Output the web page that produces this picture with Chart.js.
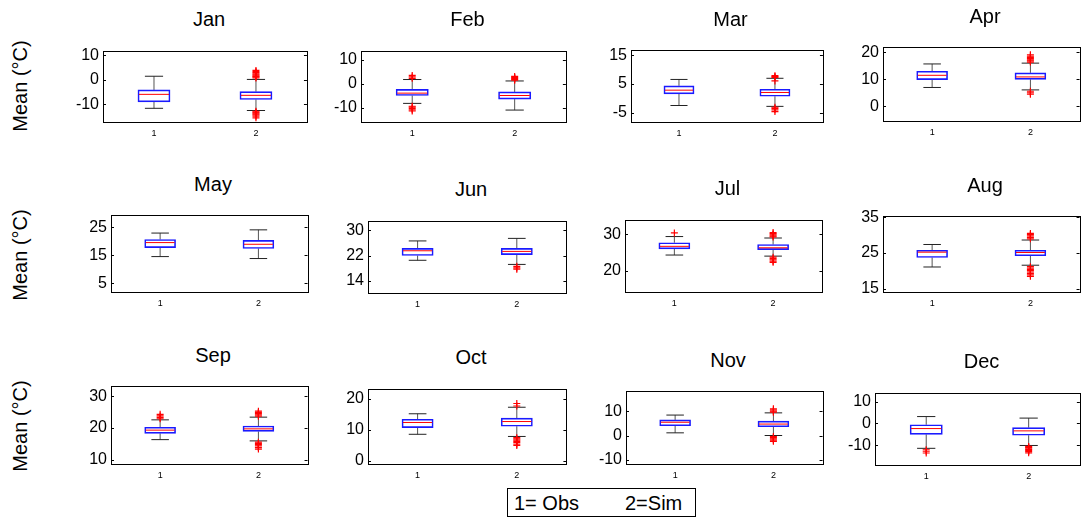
<!DOCTYPE html>
<html><head><meta charset="utf-8">
<script src="https://cdn.jsdelivr.net/npm/chart.js@4.4.1/dist/chart.umd.min.js"></script>
<style>
html,body{margin:0;padding:0;background:#fff;overflow:hidden;width:1081px;height:520px;}
#page{position:relative;width:1081px;height:520px;overflow:hidden;font-family:"Liberation Sans",Arial,sans-serif;color:#000;}
#page canvas{position:absolute;}
.title{position:absolute;width:200px;font-size:20px;line-height:20px;text-align:center;white-space:nowrap;font-weight:normal;}
.ylab{position:absolute;font-size:20px;line-height:20px;white-space:nowrap;transform:translate(-50%,-50%) rotate(-90deg);}
.legend{position:absolute;left:507px;top:488px;width:189px;height:29px;border:1px solid #000;box-sizing:border-box;background:#fff;}
.legend span{position:absolute;top:4px;font-size:20px;line-height:20px;white-space:nowrap;}
</style></head>
<body><div id="page"></div>
<script>
// ---------------- data ----------------
const months = ['Jan','Feb','Mar','Apr','May','Jun','Jul','Aug','Sep','Oct','Nov','Dec'];
const groups = [1, 2];
const groupLabels = ['1= Obs', '2=Sim'];
const yAxisLabel = 'Mean (°C)';
// [lower whisker, Q1, median, Q3, upper whisker]
const obsStats = [
  [-11.7, -9.1, -6.0, -4.2, 1.4],
  [-8.2, -4.9, -3.9, -2.3, 1.8],
  [-2.4, 1.6, 2.9, 4.4, 6.6],
  [7.0, 9.9, 11.5, 13.0, 15.7],
  [14.5, 17.7, 19.5, 20.6, 22.9],
  [20.5, 22.0, 23.5, 24.25, 26.6],
  [24.3, 26.0, 26.7, 27.7, 29.4],
  [21.1, 23.75, 25.25, 25.8, 27.4],
  [16.3, 18.3, 19.3, 20.2, 22.55],
  [8.5, 10.65, 12.3, 13.35, 15.1],
  [1.1, 4.0, 5.45, 6.4, 8.4],
  [-11.45, -5.05, -2.4, -0.65, 3.1]
];
const simStats = [
  [-12.6, -8.1, -6.4, -4.9, 0.1],
  [-11.0, -6.4, -4.9, -3.4, 1.2],
  [-2.7, 0.8, 2.1, 3.2, 7.0],
  [6.1, 10.0, 10.9, 12.4, 16.0],
  [13.8, 17.4, 18.9, 20.3, 24.05],
  [19.2, 22.3, 23.3, 24.25, 27.4],
  [24.0, 25.8, 26.3, 27.2, 29.0],
  [21.6, 24.25, 25.15, 25.8, 28.65],
  [15.9, 18.9, 19.7, 20.6, 23.4],
  [7.8, 11.1, 12.6, 13.7, 17.2],
  [0.0, 3.6, 4.7, 5.9, 9.3],
  [-10.15, -5.45, -3.45, -2.0, 2.4]
];
const obsOutliers = [
  [],
  [2.3, 2.9, 3.5, -9.4, -9.8, -10.3, -10.9, -11.4],
  [],
  [],
  [],
  [],
  [30.4],
  [],
  [22.9, 23.3, 23.8, 24.3],
  [],
  [],
  [-12.1, -12.8, -13.6]
];
const simOutliers = [
  [0.7, 1.1, 1.3, 1.6, 2.0, 2.4, 2.9, 3.3, 3.8, -12.9, -13.3, -13.6, -14.0, -14.4, -14.9, -15.6],
  [1.5, 1.9, 2.3, 2.7, 3.1],
  [6.1, 7.3, 7.6, 7.9, -3.0, -3.4, -3.9, -4.5],
  [16.4, 16.8, 17.2, 17.7, 18.1, 18.6, 19.1, 5.6, 5.0, 4.5],
  [],
  [18.6, 18.1, 17.7],
  [29.3, 29.6, 29.9, 30.2, 30.5, 23.7, 23.3, 23.0, 22.6, 22.3],
  [29.0, 29.4, 29.8, 30.2, 30.5, 21.2, 20.8, 20.4, 20.1, 19.7, 19.3, 18.9, 18.5],
  [23.7, 24.1, 24.5, 24.9, 25.3, 15.5, 15.1, 14.7, 14.3, 13.8, 13.3],
  [17.6, 18.4, 7.4, 7.0, 6.6, 6.2, 5.8, 5.3, 4.9],
  [9.6, 10.0, 10.5, 11.0, -0.4, -0.9, -1.4, -1.9, -2.4],
  [-10.6, -11.0, -11.4, -11.9, -12.4, -12.9, -13.5]
];
const yMin = [-17.3, -16.0, -8.1, -5.4, 1.84, 10.2, 14.1, 14.1, 8.6, -1.06, -11.7, -19.1];
const yMax = [11.7, 13.7, 16.75, 21.8, 29.2, 33.0, 34.1, 35.25, 33.1, 23.2, 18.1, 13.85];
const yTicks = [
  [-10, 0, 10], [-10, 0, 10], [-5, 5, 15], [0, 10, 20],
  [5, 15, 25], [14, 22, 30], [20, 30], [15, 25, 35],
  [10, 20, 30], [0, 10, 20], [-10, 0, 10], [-10, 0, 10]
];

// ---------------- layout (plot frames: left, top, right, bottom) ----------------
const panelFrames = [
  [103, 41, 317, 122], [361, 41, 576, 122], [631, 41, 832, 122], [883, 38, 1089, 121],
  [111, 206, 317, 292], [368, 211, 576, 293], [625, 210, 832, 292], [883, 207, 1089, 292],
  [111, 377, 317, 464], [368, 379, 576, 464], [626, 382, 832, 464], [875, 383, 1090, 465]
];
const yLabelCenters = [86, 255, 426];
const FONT = '"Liberation Sans", Arial, sans-serif';
const X_MIN = 0.5, X_MAX = 2.5, BOX_W = 0.3, CAP_W = 0.17;

const page = document.getElementById('page');

const framePlugin = {
  id: 'frame',
  afterDatasetsDraw(chart) {
    const { ctx, chartArea: a } = chart;
    const y = chart.scales.y;
    ctx.save();
    ctx.strokeStyle = '#000';
    ctx.lineWidth = 1;
    ctx.strokeRect(Math.round(a.left) + 0.5, Math.round(a.top) + 0.5,
                   Math.round(a.right - a.left), Math.round(a.bottom - a.top));
    ctx.beginPath();
    y.ticks.forEach(t => {
      const py = Math.round(y.getPixelForValue(t.value)) + 0.5;
      ctx.moveTo(a.left, py); ctx.lineTo(a.left + 3, py);
      ctx.moveTo(a.right - 3, py); ctx.lineTo(a.right, py);
    });
    ctx.stroke();
    ctx.restore();
  }
};

function buildPanel(i) {
  const [fl, ft, fr, fb] = panelFrames[i];
  const L = 44, T = 6, R = 6, B = 24;
  const w = fr - fl + L + R, h = fb - ft + T + B;
  const cv = document.createElement('canvas');
  cv.width = w; cv.height = h;
  cv.style.left = (fl - L) + 'px'; cv.style.top = (ft - T) + 'px';
  cv.style.width = w + 'px'; cv.style.height = h + 'px';
  page.appendChild(cv);

  const unitPx = (fr - fl) / (X_MAX - X_MIN);
  const stats = [obsStats[i], simStats[i]];
  const boxes = stats.map((s, k) => ({ x: groups[k], y: [s[1], s[3]] }));
  const whiskers = [];
  stats.forEach((s, k) => {
    const x = groups[k];
    whiskers.push({ x, y: s[3] }, { x, y: s[4] }, { x, y: null },
                  { x, y: s[0] }, { x, y: s[1] }, { x, y: null });
  });
  const caps = [];
  stats.forEach((s, k) => { caps.push({ x: groups[k], y: s[0] }, { x: groups[k], y: s[4] }); });
  const medians = stats.map((s, k) => ({ x: groups[k], y: s[2] }));
  const outliers = [];
  [obsOutliers[i], simOutliers[i]].forEach((arr, k) => arr.forEach(v => outliers.push({ x: groups[k], y: v })));

  new Chart(cv, {
    type: 'bar',
    data: {
      datasets: [
        { type: 'line', data: whiskers, borderColor: '#555', borderWidth: 1,
          pointRadius: 0, spanGaps: false, order: 4 },
        { type: 'bar', data: boxes, backgroundColor: 'rgba(255,255,255,0)', borderColor: '#1a1aff',
          borderWidth: 1, borderSkipped: false, barThickness: BOX_W * unitPx, order: 3 },
        { type: 'line', data: caps, showLine: false, pointStyle: 'line', pointRadius: CAP_W * unitPx / 2,
          pointBorderColor: '#222', pointBorderWidth: 1, order: 2 },
        { type: 'line', data: medians, showLine: false, pointStyle: 'line', pointRadius: BOX_W * unitPx / 2 - 1,
          pointBorderColor: '#ff0000', pointBorderWidth: 1, order: 1 },
        { type: 'line', data: outliers, showLine: false, pointStyle: 'cross', pointRadius: 3.5,
          pointBorderColor: '#ff0000', pointBorderWidth: 1.2, order: 0 }
      ]
    },
    options: {
      responsive: false, animation: false, events: [],
      layout: { padding: { top: T, right: R, left: 0, bottom: 0 } },
      plugins: { legend: { display: false }, tooltip: { enabled: false }, title: { display: false } },
      scales: {
        x: {
          type: 'linear', min: X_MIN, max: X_MAX, offset: false, bounds: 'data',
          grid: { display: false, drawTicks: false }, border: { display: false },
          afterBuildTicks: s => { s.ticks = groups.map(v => ({ value: v })); },
          afterFit: s => { s.height = B; },
          ticks: { font: { family: FONT, size: 9 }, color: '#000', padding: 6, maxRotation: 0,
                   autoSkip: false, callback: v => String(v) }
        },
        y: {
          type: 'linear', min: yMin[i], max: yMax[i], bounds: 'data',
          grid: { display: false, drawTicks: false }, border: { display: false },
          afterBuildTicks: s => { s.ticks = yTicks[i].map(v => ({ value: v })); },
          afterFit: s => { s.width = L; },
          ticks: { font: { family: FONT, size: 16 }, color: '#000', padding: 4, autoSkip: false,
                   callback: v => String(v) }
        }
      }
    },
    plugins: [framePlugin]
  });

  const t = document.createElement('div');
  t.className = 'title';
  t.textContent = months[i];
  t.style.left = ((fl + fr) / 2 - 101) + 'px';
  t.style.top = (ft - 32) + 'px';
  page.appendChild(t);
}

months.forEach((m, i) => buildPanel(i));

yLabelCenters.forEach(cy => {
  const d = document.createElement('div');
  d.className = 'ylab';
  d.textContent = yAxisLabel;
  d.style.left = '20px';
  d.style.top = cy + 'px';
  page.appendChild(d);
});

const lg = document.createElement('div');
lg.className = 'legend';
const s1 = document.createElement('span'); s1.textContent = groupLabels[0]; s1.style.left = '6px';
const s2 = document.createElement('span'); s2.textContent = groupLabels[1]; s2.style.left = '117px';
lg.appendChild(s1); lg.appendChild(s2);
page.appendChild(lg);
</script>
</body></html>
